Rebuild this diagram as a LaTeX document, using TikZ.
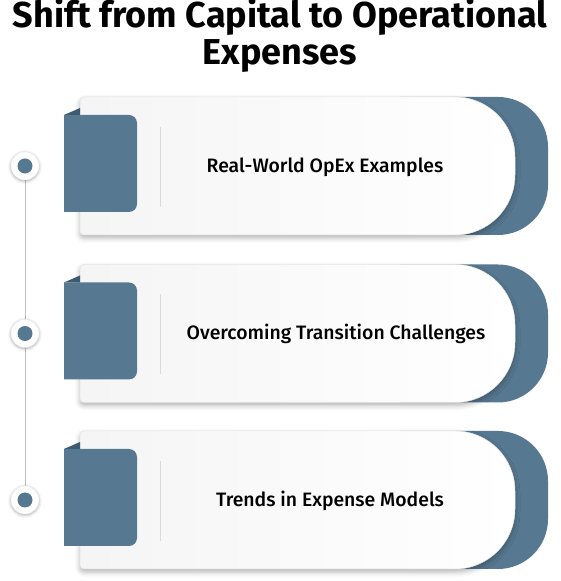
\documentclass[tikz,border=0pt]{standalone}
\usepackage{fontspec}
\setmainfont{Fira Sans}
\newfontfamily\medfont{Fira Sans Medium}
\usetikzlibrary{backgrounds,shadows.blur}
\definecolor{opxblue}{RGB}{86,120,144}
\definecolor{opxdark}{RGB}{60,90,112}
\definecolor{opxgrey}{RGB}{190,190,190}
\tikzset{
  ocard/.style={left color=black!4, right color=white, draw=black!10, line width=0.5pt,
                blur shadow={shadow xshift=0pt, shadow yshift=-3pt, shadow blur radius=5pt, shadow opacity=30}},
  oback/.style={fill=opxblue},
  otab/.style={fill=opxblue},
  ofold/.style={fill=opxdark},
  osep/.style={draw=black!15, line width=0.8pt},
  oring/.style={circle, fill=white, draw=black!8, minimum size=28pt, inner sep=0pt,
                blur shadow={shadow xshift=0pt, shadow yshift=-1pt, shadow blur radius=3pt, shadow opacity=35}},
  odot/.style={circle, fill=opxblue, minimum size=15pt, inner sep=0pt},
  olbl/.style={font=\medfont\fontsize{19.4}{22}\selectfont, anchor=base},
  ottl/.style={font=\bfseries\fontsize{36}{40}\selectfont, anchor=base},
  oline/.style={draw=opxgrey, line width=1pt},
}
\begin{document}
\begin{tikzpicture}[x=1pt,y=1pt]
    \useasboundingbox (0,0) rectangle (560,581);
    \node[ottl](ttlA) at (280,553){Shift from Capital to Operational};
    \node[ottl](ttlB) at (280,516){Expenses};

    \begin{scope}[shift={(0,415)}]
        \fill[oback] (400,69) -- (498,69) arc[start angle=90,end angle=0,radius=50pt] -- (548,-19) arc[start angle=0,end angle=-90,radius=50pt] -- (400,-69) -- cycle;
        \draw[ocard] (84,69) -- (455,69) arc[start angle=90,end angle=0,radius=60pt] -- (515,-9) arc[start angle=0,end angle=-90,radius=60pt] -- (84,-69) arc[start angle=270,end angle=180,radius=4pt] -- (80,65) arc[start angle=180,end angle=90,radius=4pt] -- cycle;
        \fill[otab] (64,51) -- (129,51) arc[start angle=90,end angle=0,radius=8pt] -- (137,-38) arc[start angle=0,end angle=-90,radius=8pt] -- (64,-46) -- cycle;
        \fill[ofold] (64,51) -- (80,58) -- (80,51) -- cycle;
        \draw[osep] (160,39) -- (160,-41);
        \node[olbl](lblA) at (325,-6.5){Real-World OpEx Examples};
        \node[oring](ringA) at (25,0){};
        \node[odot](dotA) at (ringA){};
    \end{scope}

    \begin{scope}[shift={(0,247.5)}]
        \fill[oback] (400,69) -- (498,69) arc[start angle=90,end angle=0,radius=50pt] -- (548,-19) arc[start angle=0,end angle=-90,radius=50pt] -- (400,-69) -- cycle;
        \draw[ocard] (84,69) -- (455,69) arc[start angle=90,end angle=0,radius=60pt] -- (515,-9) arc[start angle=0,end angle=-90,radius=60pt] -- (84,-69) arc[start angle=270,end angle=180,radius=4pt] -- (80,65) arc[start angle=180,end angle=90,radius=4pt] -- cycle;
        \fill[otab] (64,51) -- (129,51) arc[start angle=90,end angle=0,radius=8pt] -- (137,-38) arc[start angle=0,end angle=-90,radius=8pt] -- (64,-46) -- cycle;
        \fill[ofold] (64,51) -- (80,58) -- (80,51) -- cycle;
        \draw[osep] (160,39) -- (160,-41);
        \node[olbl](lblB) at (336,-6.5){Overcoming Transition Challenges};
        \node[oring](ringB) at (25,0){};
        \node[odot](dotB) at (ringB){};
    \end{scope}

    \begin{scope}[shift={(0,81)}]
        \fill[oback] (400,69) -- (498,69) arc[start angle=90,end angle=0,radius=50pt] -- (548,-19) arc[start angle=0,end angle=-90,radius=50pt] -- (400,-69) -- cycle;
        \draw[ocard] (84,69) -- (455,69) arc[start angle=90,end angle=0,radius=60pt] -- (515,-9) arc[start angle=0,end angle=-90,radius=60pt] -- (84,-69) arc[start angle=270,end angle=180,radius=4pt] -- (80,65) arc[start angle=180,end angle=90,radius=4pt] -- cycle;
        \fill[otab] (64,51) -- (129,51) arc[start angle=90,end angle=0,radius=8pt] -- (137,-38) arc[start angle=0,end angle=-90,radius=8pt] -- (64,-46) -- cycle;
        \fill[ofold] (64,51) -- (80,58) -- (80,51) -- cycle;
        \draw[osep] (160,39) -- (160,-41);
        \node[olbl](lblC) at (330,-6.5){Trends in Expense Models};
        \node[oring](ringC) at (25,0){};
        \node[odot](dotC) at (ringC){};
    \end{scope}

    \begin{scope}[on background layer]
        \draw[oline](ringA)--(ringC);
    \end{scope}
\end{tikzpicture}
\end{document}
